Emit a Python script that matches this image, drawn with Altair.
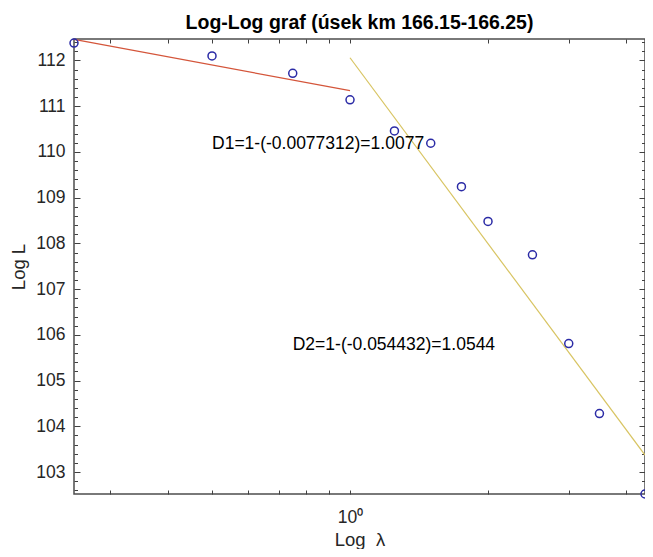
import altair as alt
import pandas as pd

# ---- data ----
lam = [0.25, 0.5, 0.75, 1.0, 1.25, 1.5, 1.75, 2.0, 2.5, 3.0, 3.5, 4.4]
logL = [112.38, 112.10, 111.72, 111.14, 110.46, 110.19, 109.24, 108.48,
        107.75, 105.81, 104.28, 102.52]

fit1_x = [0.25, 1.0]
fit1_y = [112.46, 111.34]
fit2_x = [1.0, 4.4]
fit2_y = [112.06, 103.37]

ann_x = [0.5, 0.75]
ann_y = [110.17, 105.78]
ann_text = ["D1=1-(-0.0077312)=1.0077", "D2=1-(-0.054432)=1.0544"]

x_ticks = [0.3, 0.4, 0.5, 0.6, 0.7, 0.8, 0.9, 1, 2, 3, 4]
y_major = [103, 104, 105, 106, 107, 108, 109, 110, 111, 112]
y_minor = [round(102.6 + 0.2 * i, 1) for i in range(50)
           if (i - 2) % 5 != 0]

title_text = "Log-Log graf (úsek km 166.15-166.25)"
x_title = "Log\u00a0\u00a0λ"
y_title = "Log L"

x_domain = [0.25, 4.4]
y_domain = [102.52, 112.47]

FONT = "Liberation Sans"
W, H = 571, 455
TICK = "#404040"

df_pts = pd.DataFrame({"x": lam, "y": logL})
df_f1 = pd.DataFrame({"x": fit1_x, "y": fit1_y})
df_f2 = pd.DataFrame({"x": fit2_x, "y": fit2_y})
df_ann = pd.DataFrame({"x": ann_x, "y": ann_y, "t": ann_text})

xs = alt.Scale(type="log", domain=x_domain, nice=False)
ys = alt.Scale(domain=y_domain, nice=False, zero=False)

lab = dict(labelFont=FONT, labelColor="#262626", labelFontSize=17.5,
           labelOverlap=False, labelFlush=False)
base = dict(domain=False, grid=False, tickColor=TICK, tickWidth=1, minExtent=0)

x_bottom = alt.Axis(orient="bottom", values=x_ticks, tickSize=4, offset=-4,
                    labelExpr="datum.value == 1 ? '10⁰' : ''",
                    labelBaseline="alphabetic", labelPadding=28,
                    title=x_title, titleFont=FONT, titleFontSize=18.5,
                    titleFontWeight="normal", titleColor="#262626",
                    titleX=W / 2, titleY=55, titleAlign="center",
                    titleBaseline="alphabetic", **lab, **base)
y_left = alt.Axis(orient="left", values=y_major, tickSize=6, offset=-6,
                  labelExpr="format(datum.value, 'd')",
                  labelBaseline="middle", labelAlign="right", labelPadding=9,
                  title=y_title, titleFont=FONT, titleFontSize=18.5,
                  titleFontWeight="normal", titleColor="#262626",
                  titleX=-56, titleY=H / 2, titleAngle=270, titleAlign="center",
                  titleBaseline="alphabetic", **lab, **base)
x_top = alt.Axis(orient="top", values=x_ticks, labels=False, title=None,
                 tickSize=4, offset=-4, **base)
y_right = alt.Axis(orient="right", values=y_major, labels=False, title=None,
                   tickSize=6, offset=-6, **base)
y_left_minor = alt.Axis(orient="left", values=y_minor, labels=False,
                        title=None, tickSize=3.5, offset=-3.5, **base)
y_right_minor = alt.Axis(orient="right", values=y_minor, labels=False,
                         title=None, tickSize=3.5, offset=-3.5, **base)

line1 = alt.Chart(df_f1).mark_line(color="#d4553a", strokeWidth=1.2).encode(
    x=alt.X("x:Q", scale=xs, axis=x_bottom),
    y=alt.Y("y:Q", scale=ys, axis=y_left),
)
line2 = alt.Chart(df_f2).mark_line(color="#d8c462", strokeWidth=1.2).encode(
    x=alt.X("x:Q", scale=xs, axis=x_top),
    y=alt.Y("y:Q", scale=ys, axis=y_right),
)
pts = alt.Chart(df_pts).mark_point(shape="circle", filled=False, size=64,
                                   strokeWidth=1.5, color="#2b2ba6",
                                   opacity=1).encode(
    x=alt.X("x:Q", scale=xs, axis=None),
    y=alt.Y("y:Q", scale=ys, axis=y_left_minor),
)
txt = alt.Chart(df_ann).mark_text(align="left", baseline="middle", font=FONT,
                                  fontSize=17.5, color="#000000").encode(
    x=alt.X("x:Q", scale=xs, axis=None),
    y=alt.Y("y:Q", scale=ys, axis=y_right_minor),
    text="t:N",
)

chart = alt.layer(line1, line2, pts, txt).resolve_axis(
    x="independent", y="independent"
).properties(
    width=W, height=H,
    title=alt.TitleParams(text=title_text, font=FONT, fontSize=19.5,
                          fontWeight="bold", color="#000000", anchor="middle",
                          frame="group", offset=5, dy=17,
                          baseline="alphabetic"),
    padding={"left": 66, "top": 31, "right": 0, "bottom": 55},
    autosize=alt.AutoSizeParams(type="none"),
).configure_view(stroke="#4d4d4d", strokeWidth=1.5)

chart.save("out.html", embed_options={"renderer": "svg", "actions": False})
